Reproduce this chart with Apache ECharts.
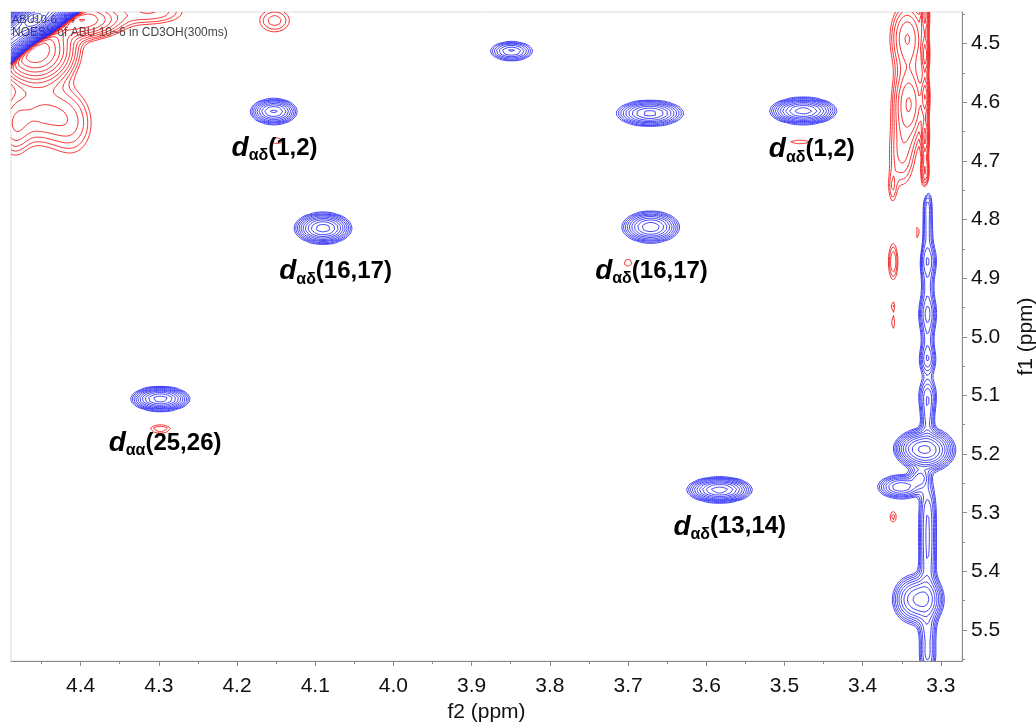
<!DOCTYPE html>
<html>
<head>
<meta charset="utf-8">
<script src="https://cdn.jsdelivr.net/npm/echarts@6/dist/echarts.min.js"></script>
<style>
  html, body { margin: 0; padding: 0; background: #fff; }
  #chart { width: 1036px; height: 726px; }
</style>
</head>
<body>
<div id="chart"></div>
<script>
// ---- spectral window (ppm) ----
const f2Range = [3.273, 4.489];
const f1Range = [4.4463, 5.5528];
const f2Ticks = [3.3, 3.4, 3.5, 3.6, 3.7, 3.8, 3.9, 4.0, 4.1, 4.2, 4.3, 4.4];
const f2MinorTicks = [3.35, 3.45, 3.55, 3.65, 3.75, 3.85, 3.95, 4.05, 4.15, 4.25, 4.35, 4.45];
const f1Ticks = [4.5, 4.6, 4.7, 4.8, 4.9, 5.0, 5.1, 5.2, 5.3, 5.4, 5.5];
const f1MinorTicks = [4.45, 4.55, 4.65, 4.75, 4.85, 4.95, 5.05, 5.15, 5.25, 5.35, 5.45, 5.55];

// ---- contour levels: base * step^k ----
const LEVEL_BASE = 1;
const LEVEL_STEP = 1.3;
const LEVEL_COUNT = 40;

// ---- positive peaks (blue): f2, f1, half-width f2, half-width f1 (at lowest level), rings ----
const posF2 = [
  4.153, 3.849, 3.672, 3.476, 4.090, 3.671, 4.298, 3.583,
  // diagonal
  4.41, 4.42, 4.43, 4.44, 4.45, 4.46, 4.47, 4.48, 4.49, 4.50, 4.51, 4.52, 4.53, 4.54, 4.55, 4.46,
  // solvent strip near 3.32 ppm
  3.317, 3.317, 3.317, 3.317, 3.317, 3.317, 3.317, 3.317, 3.317, 3.317, 3.317, 3.317, 3.317, 3.317,
  3.318, 3.337, 3.351, 3.327, 3.337, 3.318
];
const posF1 = [
  4.616, 4.513, 4.619, 4.615, 4.815, 4.813, 5.106, 5.261,
  4.41, 4.42, 4.43, 4.44, 4.45, 4.46, 4.47, 4.48, 4.49, 4.50, 4.51, 4.52, 4.53, 4.54, 4.55, 4.46,
  4.775, 4.82, 4.87, 4.915, 4.96, 5.00, 5.04, 5.10, 5.14, 5.29, 5.34, 5.39, 5.50, 5.545,
  5.193, 5.19, 5.256, 5.24, 5.448, 5.448
];
const posWF2 = [
  0.030, 0.027, 0.043, 0.043, 0.037, 0.037, 0.038, 0.042,
  0.036, 0.036, 0.036, 0.036, 0.036, 0.036, 0.036, 0.036, 0.036, 0.036, 0.036, 0.036, 0.036, 0.036, 0.036, 0.034,
  0.005, 0.006, 0.011, 0.007, 0.011, 0.007, 0.010, 0.011, 0.008, 0.010, 0.010, 0.010, 0.010, 0.010,
  0.037, 0.020, 0.030, 0.012, 0.025, 0.022
];
const posWF1 = [
  0.022, 0.016, 0.022, 0.023, 0.027, 0.027, 0.021, 0.022,
  0.036, 0.036, 0.036, 0.036, 0.036, 0.036, 0.036, 0.036, 0.036, 0.036, 0.036, 0.036, 0.036, 0.036, 0.036, 0.034,
  0.025, 0.03, 0.03, 0.03, 0.03, 0.03, 0.025, 0.03, 0.03, 0.04, 0.04, 0.04, 0.03, 0.03,
  0.038, 0.020, 0.020, 0.015, 0.040, 0.040
];
const posRings = [
  8.2, 6.2, 8.4, 9.6, 9.6, 8.8, 9.6, 9.6,
  24, 24, 24, 24, 24, 24, 24, 24, 24, 24, 24, 24, 24, 24, 24, 25,
  3, 3, 4.5, 3, 4.5, 3, 4.5, 4.5, 4, 4, 4, 4, 4, 4,
  10, 5, 7, 5, 7, 7
];

// ---- negative peaks (red) ----
const negF2 = [
  // diagonal side lobes
  4.458, 4.40, 4.31, 4.45, 4.41, 4.485,
  4.152,
  // strip above 4.75 ppm
  3.320, 3.320, 3.320, 3.320, 3.320, 3.341, 3.343, 3.35,
  3.362, 3.361, 3.329, 3.361, 3.361, 3.361,
  // small features near cross peaks
  4.149, 3.480, 3.700, 4.298
];
const negF1 = [
  4.511, 4.46, 4.446, 4.62, 4.64, 4.645,
  4.461,
  4.45, 4.52, 4.59, 4.66, 4.72, 4.602, 4.49, 4.69,
  4.748, 4.872, 4.83, 4.946, 4.976, 5.307,
  4.666, 4.668, 4.874, 5.157
];
const negWF2 = [
  0.060, 0.060, 0.040, 0.040, 0.020, 0.015,
  0.019,
  0.005, 0.005, 0.005, 0.005, 0.005, 0.022, 0.022, 0.015,
  0.003, 0.006, 0.002, 0.0015, 0.002, 0.004,
  0.008, 0.012, 0.005, 0.013
];
const negWF1 = [
  0.070, 0.035, 0.020, 0.050, 0.040, 0.040,
  0.019,
  0.035, 0.035, 0.035, 0.035, 0.030, 0.070, 0.060, 0.050,
  0.015, 0.031, 0.034, 0.004, 0.010, 0.009,
  0.005, 0.004, 0.006, 0.007
];
const negRings = [
  11, 8, 3, 4, 2, 2.5,
  2.5,
  5, 5, 5, 5, 4, 6, 5, 3,
  1, 3, 1, 0.5, 0.8, 1.5,
  0.8, 1, 0.8, 2
];

// ---- peak assignments ----
const annF2 = [4.152, 3.465, 4.074, 3.670, 4.292, 3.570];
const annF1 = [4.678, 4.681, 4.889, 4.888, 5.181, 5.324];
const annSub = ['αδ', 'αδ', 'αδ', 'αδ', 'αα', 'αδ'];
const annPair = ['(1,2)', '(1,2)', '(16,17)', '(16,17)', '(25,26)', '(13,14)'];

const BLUE = 'rgb(48,48,245)';
const RED = 'rgb(245,30,30)';

// ---- sample the spectrum on a grid ----
const DX = 0.0025, DY = 0.0065;
const nx = Math.round((f2Range[1] - f2Range[0]) / DX) + 1;
const ny = Math.round((f1Range[1] - f1Range[0]) / DY) + 1;
const dx = (f2Range[1] - f2Range[0]) / (nx - 1);
const dy = (f1Range[1] - f1Range[0]) / (ny - 1);
const xs = new Float64Array(nx), ys = new Float64Array(ny);
for (let i = 0; i < nx; i++) xs[i] = f2Range[0] + i * dx;
for (let j = 0; j < ny; j++) ys[j] = f1Range[0] + j * dy;
const field = new Float64Array(nx * ny);
const lnStep = Math.log(LEVEL_STEP);

function addPeaks(px, py, wx, wy, rings, sign) {
  const gx = new Float64Array(nx), gy = new Float64Array(ny);
  for (let k = 0; k < px.length; k++) {
    const amp = sign * LEVEL_BASE * Math.pow(LEVEL_STEP, rings[k]);
    const q = Math.sqrt(2 * rings[k] * lnStep);
    const sx = wx[k] / q, sy = wy[k] / q;
    for (let i = 0; i < nx; i++) { const u = (xs[i] - px[k]) / sx; gx[i] = Math.exp(-0.5 * u * u); }
    for (let j = 0; j < ny; j++) { const u = (ys[j] - py[k]) / sy; gy[j] = Math.exp(-0.5 * u * u); }
    for (let j = 0; j < ny; j++) {
      if (gy[j] < 1e-9) continue;
      const a = amp * gy[j], row = j * nx;
      for (let i = 0; i < nx; i++) {
        if (gx[i] < 1e-9) continue;
        field[row + i] += a * gx[i];
      }
    }
  }
}
addPeaks(posF2, posF1, posWF2, posWF1, posRings, 1);
addPeaks(negF2, negF1, negWF2, negWF1, negRings, -1);

// ---- marching squares ----
function traceLevel(L, s, out) {
  const F = field;
  for (let j = 0; j < ny - 1; j++) {
    for (let i = 0; i < nx - 1; i++) {
      const a = s * F[j * nx + i], b = s * F[j * nx + i + 1];
      const c = s * F[(j + 1) * nx + i + 1], d = s * F[(j + 1) * nx + i];
      const sa = a >= L, sb = b >= L, sc = c >= L, sd = d >= L;
      if (sa === sb && sb === sc && sc === sd) continue;
      const pts = [null, null, null, null];
      if (sa !== sb) pts[0] = [xs[i] + dx * (L - a) / (b - a), ys[j]];
      if (sb !== sc) pts[1] = [xs[i + 1], ys[j] + dy * (L - b) / (c - b)];
      if (sc !== sd) pts[2] = [xs[i] + dx * (L - d) / (c - d), ys[j + 1]];
      if (sd !== sa) pts[3] = [xs[i], ys[j] + dy * (L - a) / (d - a)];
      const hit = [];
      for (let e = 0; e < 4; e++) if (pts[e]) hit.push(e);
      if (hit.length === 2) {
        out.push({ coords: [pts[hit[0]], pts[hit[1]]] });
      } else if (hit.length === 4) {
        const cs = (a + b + c + d) / 4 >= L;
        const st = [sa, sb, sc, sd];
        const adj = [[3, 0], [0, 1], [1, 2], [2, 3]];
        for (let k = 0; k < 4; k++) {
          if (st[k] !== cs) out.push({ coords: [pts[adj[k][0]], pts[adj[k][1]]] });
        }
      }
    }
  }
}

let fmax = 0, fmin = 0;
for (let k = 0; k < field.length; k++) { if (field[k] > fmax) fmax = field[k]; if (field[k] < fmin) fmin = field[k]; }
const blueSegs = [], redSegs = [];
for (let k = 0; k < LEVEL_COUNT; k++) {
  const L = LEVEL_BASE * Math.pow(LEVEL_STEP, k);
  if (L < fmax) traceLevel(L, 1, blueSegs);
  if (L < -fmin) traceLevel(L, -1, redSegs);
}

// ---- chart ----
const chart = echarts.init(document.getElementById('chart'), null, { renderer: 'canvas' });
const FONT = "'Liberation Sans', Arial, sans-serif";
const AXIS_GRAY = '#8a8a8a';

chart.setOption({
  animation: false,
  backgroundColor: '#fff',
  grid: {
    left: 11, top: 12, right: 74, bottom: 65,
    show: true, borderColor: '#dcdcdc', borderWidth: 1,
    containLabel: false, outerBoundsMode: 'none'
  },
  graphic: {
    elements: [
      { type: 'text', left: 12, top: 14, z: 0,
        style: { text: 'ABU10-6  14', fill: '#444', font: "11px " + FONT } },
      { type: 'text', left: 12, top: 27, z: 0,
        style: { text: 'NOESY of ABU 10~6 in CD3OH(300ms)', fill: '#444', font: "12px " + FONT } }
    ]
  },
  xAxis: [
    {
      type: 'value', inverse: true, position: 'bottom',
      min: f2Range[0], max: f2Range[1],
      name: 'f2 (ppm)', nameLocation: 'middle', nameGap: 40,
      nameTextStyle: { fontSize: 21, color: '#111', fontFamily: FONT },
      axisLine: { show: true, onZero: false, lineStyle: { color: AXIS_GRAY, width: 1 } },
      axisTick: { show: true, length: 5, customValues: f2Ticks, lineStyle: { color: AXIS_GRAY } },
      axisLabel: { show: true, customValues: f2Ticks, margin: 15, fontSize: 21, color: '#111',
        fontFamily: FONT, formatter: v => v.toFixed(1) },
      splitLine: { show: false }
    },
    {
      type: 'value', inverse: true, position: 'bottom',
      min: f2Range[0], max: f2Range[1],
      axisLine: { show: false },
      axisTick: { show: true, length: 3, customValues: f2MinorTicks, lineStyle: { color: AXIS_GRAY } },
      axisLabel: { show: false },
      splitLine: { show: false }
    }
  ],
  yAxis: [
    {
      type: 'value', inverse: true, position: 'right',
      min: f1Range[0], max: f1Range[1],
      name: 'f1 (ppm)', nameLocation: 'middle', nameGap: 54, nameRotate: 90,
      nameTextStyle: { fontSize: 21, color: '#111', fontFamily: FONT },
      axisLine: { show: true, onZero: false, lineStyle: { color: AXIS_GRAY, width: 1 } },
      axisTick: { show: true, length: 5, customValues: f1Ticks, lineStyle: { color: AXIS_GRAY } },
      axisLabel: { show: true, customValues: f1Ticks, margin: 9, fontSize: 21, color: '#111',
        fontFamily: FONT, formatter: v => v.toFixed(1) },
      splitLine: { show: false }
    },
    {
      type: 'value', inverse: true, position: 'right',
      min: f1Range[0], max: f1Range[1],
      axisLine: { show: false },
      axisTick: { show: true, length: 3, customValues: f1MinorTicks, lineStyle: { color: AXIS_GRAY } },
      axisLabel: { show: false },
      splitLine: { show: false }
    }
  ],
  series: [
    {
      name: 'negative', type: 'lines', coordinateSystem: 'cartesian2d',
      xAxisIndex: 0, yAxisIndex: 0, polyline: false, large: true, largeThreshold: 500,
      silent: true, z: 2,
      lineStyle: { color: RED, width: 0.9, opacity: 1 },
      data: redSegs
    },
    {
      name: 'positive', type: 'lines', coordinateSystem: 'cartesian2d',
      xAxisIndex: 0, yAxisIndex: 0, polyline: false, large: true, largeThreshold: 500,
      silent: true, z: 3,
      lineStyle: { color: BLUE, width: 0.9, opacity: 1 },
      data: blueSegs
    },
    {
      name: 'assignments', type: 'scatter', xAxisIndex: 0, yAxisIndex: 0,
      symbolSize: 0.01, itemStyle: { color: '#000' }, silent: true, z: 5,
      data: annF2.map((x, i) => [x, annF1[i]]),
      label: {
        show: true, position: 'inside', opacity: 1,
        formatter: p => '{d|d}{s|' + annSub[p.dataIndex] + '}{p|' + annPair[p.dataIndex] + '}',
        rich: {
          d: { fontSize: 28, fontWeight: 'bold', fontStyle: 'italic', color: '#000', fontFamily: FONT, lineHeight: 32 },
          s: { fontSize: 16, fontWeight: 'bold', color: '#000', fontFamily: FONT, lineHeight: 32, verticalAlign: 'bottom' },
          p: { fontSize: 24, fontWeight: 'bold', color: '#000', fontFamily: FONT, lineHeight: 32 }
        }
      }
    }
  ]
});
</script>
</body>
</html>
